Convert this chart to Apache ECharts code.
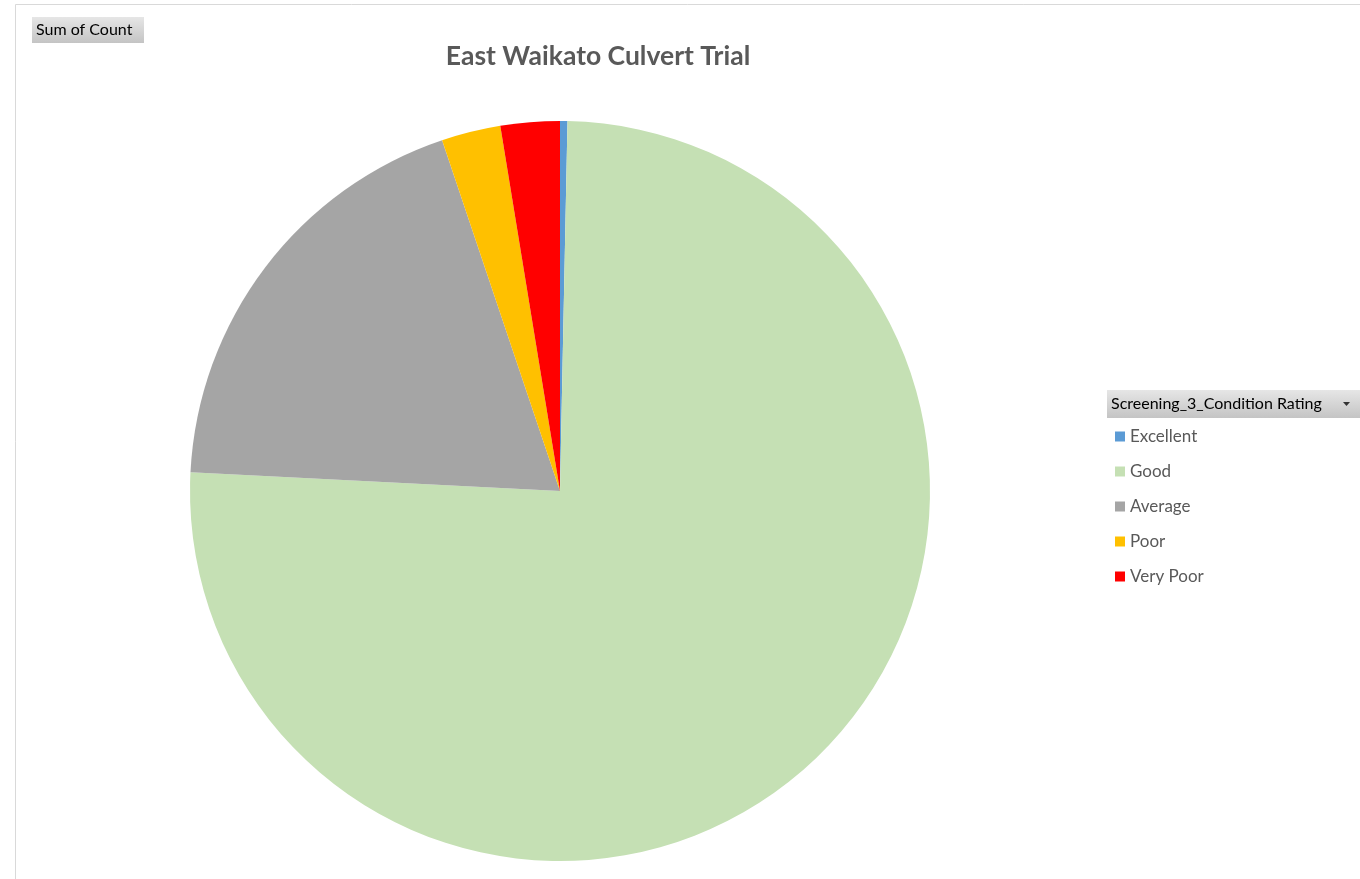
<!DOCTYPE html>
<html>
<head>
<meta charset="utf-8">
<script src="https://cdn.jsdelivr.net/npm/echarts@6/dist/echarts.min.js"></script>
<style>
html,body{margin:0;padding:0;background:#fff;}
#chart{width:1360px;height:879px;}
</style>
</head>
<body>
<div id="chart"></div>
<script>
const categories = ['Excellent', 'Good', 'Average', 'Poor', 'Very Poor'];
const counts = [1, 234, 59, 8, 8];
const colors = ['#5B9BD5', '#C5E0B4', '#A5A5A5', '#FFC000', '#FF0000'];
const titleText = 'East Waikato Culvert Trial';
const valueFieldLabel = 'Sum of Count';
const legendFieldLabel = 'Screening_3_Condition Rating';

const font = 'Lato, "Open Sans", "Liberation Sans", sans-serif';
const chart = echarts.init(document.getElementById('chart'), null, {renderer: 'canvas'});
const btnGrad = new echarts.graphic.LinearGradient(0, 0, 0, 1, [
  {offset: 0, color: '#e6e6e6'}, {offset: 1, color: '#c4c4c4'}
]);
chart.setOption({
  backgroundColor: '#ffffff',
  animation: false,
  title: {
    text: titleText,
    left: 593, top: 38, textAlign: 'center',
    textStyle: {fontFamily: font, fontSize: 26.5, fontWeight: 'bold', color: '#595959'}
  },
  legend: {
    orient: 'vertical',
    left: 1115, top: 428, padding: 0,
    icon: 'rect', itemWidth: 10, itemHeight: 10, itemGap: 18,
    data: categories,
    textStyle: {fontFamily: font, fontSize: 17, color: '#595959'}
  },
  graphic: [
    {type: 'polyline', shape: {points: [[15.5, 879], [15.5, 4.5], [1360, 4.5]]}, style: {stroke: '#d9d9d9', lineWidth: 1, fill: null}},
    {type: 'rect', shape: {x: 32, y: 17, width: 112, height: 26}, style: {fill: btnGrad}},
    {type: 'text', x: 36, y: 30, style: {text: valueFieldLabel, font: '16px ' + font, fill: '#000', verticalAlign: 'middle'}},
    {type: 'rect', shape: {x: 1107, y: 390, width: 253, height: 28}, style: {fill: btnGrad}},
    {type: 'text', x: 1111, y: 404, style: {text: legendFieldLabel, font: '16px ' + font, fill: '#000', verticalAlign: 'middle'}},
    {type: 'polygon', shape: {points: [[1343, 402], [1350, 402], [1346.5, 406]]}, style: {fill: '#333'}}
  ],
  series: [{
    type: 'pie',
    center: [560, 491],
    radius: 370,
    startAngle: 90,
    clockwise: true,
    label: {show: false},
    labelLine: {show: false},
    emphasis: {disabled: true},
    itemStyle: {borderWidth: 0},
    data: categories.map((c, i) => ({name: c, value: counts[i], itemStyle: {color: colors[i]}}))
  }]
});
</script>
</body>
</html>
